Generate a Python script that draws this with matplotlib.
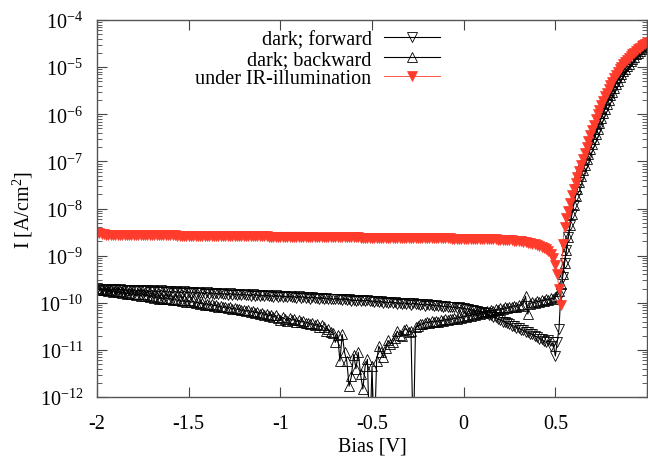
import numpy as np
import matplotlib
matplotlib.use("Agg")
import matplotlib.pyplot as plt
from matplotlib.ticker import LogLocator, NullFormatter

# ---------------- data: bias [V] and log10 of current density [A/cm^2] ----------------
bias = [
    -2.0000, -1.9875, -1.9750, -1.9625, -1.9500, -1.9375, -1.9250, -1.9125, -1.9000, -1.8875,
    -1.8750, -1.8625, -1.8500, -1.8375, -1.8250, -1.8125, -1.8000, -1.7875, -1.7750, -1.7625,
    -1.7500, -1.7375, -1.7250, -1.7125, -1.7000, -1.6875, -1.6750, -1.6625, -1.6500, -1.6375,
    -1.6250, -1.6125, -1.6000, -1.5875, -1.5750, -1.5625, -1.5500, -1.5375, -1.5250, -1.5125,
    -1.5000, -1.4875, -1.4750, -1.4625, -1.4500, -1.4375, -1.4250, -1.4125, -1.4000, -1.3875,
    -1.3750, -1.3625, -1.3500, -1.3375, -1.3250, -1.3125, -1.3000, -1.2875, -1.2750, -1.2625,
    -1.2500, -1.2375, -1.2250, -1.2125, -1.2000, -1.1875, -1.1750, -1.1625, -1.1500, -1.1375,
    -1.1250, -1.1125, -1.1000, -1.0875, -1.0750, -1.0625, -1.0500, -1.0375, -1.0250, -1.0125,
    -1.0000, -0.9875, -0.9750, -0.9625, -0.9500, -0.9375, -0.9250, -0.9125, -0.9000, -0.8875,
    -0.8750, -0.8625, -0.8500, -0.8375, -0.8250, -0.8125, -0.8000, -0.7875, -0.7750, -0.7625,
    -0.7500, -0.7375, -0.7250, -0.7125, -0.7000, -0.6875, -0.6750, -0.6625, -0.6500, -0.6375,
    -0.6250, -0.6125, -0.6000, -0.5875, -0.5750, -0.5625, -0.5500, -0.5375, -0.5250, -0.5125,
    -0.5000, -0.4875, -0.4750, -0.4625, -0.4500, -0.4375, -0.4250, -0.4125, -0.4000, -0.3875,
    -0.3750, -0.3625, -0.3500, -0.3375, -0.3250, -0.3125, -0.3000, -0.2875, -0.2750, -0.2625,
    -0.2500, -0.2375, -0.2250, -0.2125, -0.2000, -0.1875, -0.1750, -0.1625, -0.1500, -0.1375,
    -0.1250, -0.1125, -0.1000, -0.0875, -0.0750, -0.0625, -0.0500, -0.0375, -0.0250, -0.0125,
    0.0000, 0.0125, 0.0250, 0.0375, 0.0500, 0.0625, 0.0750, 0.0875, 0.1000, 0.1125,
    0.1250, 0.1375, 0.1500, 0.1625, 0.1750, 0.1875, 0.2000, 0.2125, 0.2250, 0.2375,
    0.2500, 0.2625, 0.2750, 0.2875, 0.3000, 0.3125, 0.3250, 0.3375, 0.3500, 0.3625,
    0.3750, 0.3875, 0.4000, 0.4125, 0.4250, 0.4375, 0.4500, 0.4625, 0.4750, 0.4875,
    0.5000,
    0.51, 0.52, 0.53, 0.54, 0.55, 0.56, 0.57, 0.58, 0.59, 0.60,
    0.61, 0.62, 0.63, 0.64, 0.65, 0.66, 0.67, 0.68, 0.69, 0.70,
    0.71, 0.72, 0.73, 0.74, 0.75, 0.76, 0.77, 0.78, 0.79, 0.80,
    0.81, 0.82, 0.83, 0.84, 0.85, 0.86, 0.87, 0.88, 0.89, 0.90,
    0.91, 0.92, 0.93, 0.94, 0.95, 0.96, 0.97, 0.98, 0.99, 1.00,
]

log_forward = [
    -9.69, -9.72, -9.70, -9.73, -9.70, -9.72, -9.71, -9.74, -9.71, -9.73,
    -9.71, -9.74, -9.72, -9.75, -9.72, -9.74, -9.73, -9.76, -9.72, -9.75,
    -9.73, -9.76, -9.74, -9.77, -9.74, -9.76, -9.75, -9.77, -9.74, -9.77,
    -9.75, -9.78, -9.76, -9.79, -9.76, -9.78, -9.77, -9.79, -9.76, -9.79,
    -9.77, -9.80, -9.78, -9.80, -9.78, -9.80, -9.79, -9.81, -9.78, -9.81,
    -9.79, -9.82, -9.80, -9.82, -9.80, -9.82, -9.81, -9.83, -9.80, -9.83,
    -9.81, -9.84, -9.82, -9.84, -9.82, -9.84, -9.83, -9.85, -9.82, -9.85,
    -9.83, -9.86, -9.84, -9.86, -9.84, -9.86, -9.85, -9.87, -9.84, -9.87,
    -9.85, -9.88, -9.86, -9.88, -9.86, -9.88, -9.87, -9.89, -9.86, -9.89,
    -9.87, -9.90, -9.88, -9.91, -9.88, -9.90, -9.89, -9.92, -9.89, -9.91,
    -9.90, -9.93, -9.91, -9.93, -9.91, -9.93, -9.92, -9.94, -9.91, -9.94,
    -9.93, -9.96, -9.94, -9.96, -9.94, -9.96, -9.95, -9.97, -9.94, -9.97,
    -9.96, -9.99, -9.97, -9.99, -9.97, -10.00, -9.98, -10.01, -9.98, -10.00,
    -9.99, -10.02, -10.00, -10.03, -10.00, -10.02, -10.01, -10.04, -10.01, -10.03,
    -10.02, -10.05, -10.03, -10.06, -10.03, -10.05, -10.04, -10.07, -10.05, -10.07,
    -10.06, -10.09, -10.07, -10.10, -10.08, -10.10, -10.09, -10.12, -10.10, -10.12,
    -10.11, -10.14, -10.13, -10.16, -10.15, -10.17, -10.17, -10.20, -10.19, -10.22,
    -10.22, -10.26, -10.27, -10.31, -10.31, -10.35, -10.36, -10.40, -10.40, -10.44,
    -10.45, -10.49, -10.49, -10.53, -10.54, -10.57, -10.58, -10.62, -10.62, -10.66,
    -10.67, -10.71, -10.72, -10.76, -10.77, -10.82, -10.84, -10.80, -10.92, -10.84,
    -11.13,
    -10.84, -10.55, -9.80, -9.45, -9.15, -8.88, -8.60, -8.35, -8.12, -7.92,
    -7.74, -7.58, -7.43, -7.30, -7.18, -7.07, -6.96, -6.85, -6.74, -6.64,
    -6.53, -6.42, -6.31, -6.19, -6.08, -5.98, -5.88, -5.78, -5.69, -5.60,
    -5.52, -5.44, -5.36, -5.29, -5.22, -5.15, -5.09, -5.03, -4.98, -4.93,
    -4.88, -4.83, -4.78, -4.73, -4.69, -4.65, -4.61, -4.58, -4.55, -4.52,
]

log_backward = [
    -9.69, -9.72, -9.71, -9.74, -9.72, -9.75, -9.74, -9.77, -9.75, -9.78,
    -9.76, -9.79, -9.78, -9.81, -9.79, -9.82, -9.81, -9.84, -9.82, -9.85,
    -9.82, -9.86, -9.84, -9.87, -9.86, -9.89, -9.87, -9.91, -9.89, -9.92,
    -9.89, -9.92, -9.91, -9.94, -9.92, -9.95, -9.94, -9.97, -9.95, -9.98,
    -9.95, -9.99, -9.97, -10.00, -9.99, -10.02, -10.00, -10.04, -10.02, -10.05,
    -10.03, -10.06, -10.05, -10.08, -10.07, -10.10, -10.08, -10.12, -10.10, -10.13,
    -10.11, -10.14, -10.13, -10.16, -10.15, -10.18, -10.16, -10.20, -10.18, -10.21,
    -10.19, -10.23, -10.21, -10.25, -10.23, -10.28, -10.25, -10.30, -10.27, -10.33,
    -10.36, -10.31, -10.34, -10.38, -10.33, -10.37, -10.35, -10.40, -10.37, -10.41,
    -10.39, -10.43, -10.42, -10.46, -10.44, -10.48, -10.46, -10.51, -10.48, -10.52,
    -10.60, -10.56, -10.62, -10.64, -10.84, -10.68, -11.24, -10.67, -11.05, -11.24,
    -11.77, -11.56, -11.10, -11.40, -11.05, -11.52, -11.83, -11.35, -11.20, -13.00,
    -11.35, -13.00, -11.24, -10.92, -11.05, -11.16, -10.95, -10.80, -10.88, -10.84,
    -10.75, -10.60, -10.68, -10.70, -10.58, -10.55, -10.62, -10.60, -13.00, -10.52,
    -10.50, -10.46, -10.45, -10.43, -10.41, -10.42, -10.39, -10.41, -10.38, -10.40,
    -10.37, -10.39, -10.35, -10.37, -10.34, -10.35, -10.32, -10.34, -10.30, -10.32,
    -10.28, -10.30, -10.26, -10.28, -10.24, -10.26, -10.22, -10.24, -10.20, -10.22,
    -10.18, -10.20, -10.16, -10.18, -10.14, -10.16, -10.12, -10.14, -10.10, -10.12,
    -10.08, -10.10, -10.06, -10.08, -10.04, -10.06, -10.02, -9.86, -10.24, -10.03,
    -9.98, -10.00, -9.96, -9.98, -9.94, -9.96, -9.92, -9.94, -9.90, -9.92,
    -9.88,
    -9.85, -9.75, -9.60, -9.40, -9.15, -8.88, -8.60, -8.35, -8.12, -7.92,
    -7.74, -7.58, -7.43, -7.30, -7.18, -7.07, -6.96, -6.85, -6.74, -6.64,
    -6.53, -6.42, -6.31, -6.19, -6.08, -5.98, -5.88, -5.78, -5.69, -5.60,
    -5.52, -5.44, -5.36, -5.29, -5.22, -5.15, -5.09, -5.03, -4.98, -4.93,
    -4.88, -4.83, -4.78, -4.73, -4.69, -4.65, -4.61, -4.58, -4.55, -4.52,
]

log_ir = [
    -8.52, -8.53, -8.54, -8.55, -8.56, -8.56, -8.56, -8.56, -8.56, -8.56,
    -8.56, -8.56, -8.56, -8.56, -8.56, -8.57, -8.57, -8.57, -8.57, -8.57,
    -8.57, -8.57, -8.57, -8.57, -8.57, -8.57, -8.57, -8.57, -8.57, -8.57,
    -8.57, -8.57, -8.57, -8.57, -8.57, -8.58, -8.58, -8.58, -8.58, -8.58,
    -8.58, -8.58, -8.58, -8.58, -8.58, -8.58, -8.58, -8.58, -8.58, -8.58,
    -8.58, -8.58, -8.58, -8.58, -8.58, -8.59, -8.59, -8.59, -8.59, -8.59,
    -8.59, -8.59, -8.59, -8.59, -8.59, -8.59, -8.59, -8.59, -8.59, -8.59,
    -8.59, -8.59, -8.59, -8.59, -8.59, -8.60, -8.60, -8.60, -8.60, -8.60,
    -8.60, -8.60, -8.60, -8.60, -8.60, -8.60, -8.60, -8.60, -8.60, -8.60,
    -8.60, -8.60, -8.60, -8.60, -8.60, -8.61, -8.61, -8.61, -8.61, -8.61,
    -8.61, -8.61, -8.61, -8.61, -8.61, -8.61, -8.61, -8.61, -8.61, -8.61,
    -8.61, -8.61, -8.61, -8.61, -8.61, -8.62, -8.62, -8.62, -8.62, -8.62,
    -8.62, -8.62, -8.62, -8.62, -8.62, -8.62, -8.62, -8.62, -8.62, -8.62,
    -8.62, -8.62, -8.62, -8.62, -8.62, -8.63, -8.63, -8.63, -8.63, -8.63,
    -8.63, -8.63, -8.63, -8.63, -8.63, -8.63, -8.63, -8.63, -8.63, -8.63,
    -8.63, -8.63, -8.63, -8.63, -8.63, -8.64, -8.64, -8.64, -8.64, -8.64,
    -8.64, -8.64, -8.64, -8.64, -8.64, -8.65, -8.65, -8.65, -8.65, -8.65,
    -8.65, -8.65, -8.65, -8.65, -8.65, -8.66, -8.66, -8.66, -8.66, -8.66,
    -8.67, -8.67, -8.68, -8.68, -8.69, -8.70, -8.71, -8.72, -8.73, -8.74,
    -8.75, -8.76, -8.78, -8.80, -8.82, -8.84, -8.87, -8.91, -8.96, -9.05,
    -9.20,
    -9.40, -9.70, -10.05, -8.75, -8.40, -8.20, -8.05, -7.88, -7.72, -7.58,
    -7.46, -7.33, -7.20, -7.07, -6.95, -6.82, -6.70, -6.57, -6.45, -6.33,
    -6.22, -6.11, -6.00, -5.90, -5.80, -5.71, -5.62, -5.54, -5.46, -5.38,
    -5.31, -5.24, -5.17, -5.11, -5.05, -4.99, -4.94, -4.89, -4.85, -4.81,
    -4.77, -4.73, -4.69, -4.65, -4.62, -4.59, -4.56, -4.53, -4.50, -4.47,
]

labels = ["dark; forward", "dark; backward", "under IR-illumination"]
xtick_vals = [-2, -1.5, -1, -0.5, 0, 0.5, 1]
xtick_text = ["-2", "-1.5", "-1", "-0.5", "0", "0.5", ""]
ytick_exp = [-12, -11, -10, -9, -8, -7, -6, -5, -4]

# ---------------- style ----------------
plt.rcParams["font.family"] = ["Liberation Serif", "DejaVu Serif"]
plt.rcParams["mathtext.fontset"] = "custom"
plt.rcParams["mathtext.rm"] = "Liberation Serif"
plt.rcParams["mathtext.it"] = "Liberation Serif:italic"
plt.rcParams["axes.unicode_minus"] = False

W, H = 648, 464
fig = plt.figure(figsize=(W / 100, H / 100), dpi=100)
ax = fig.add_axes([97 / W, 1 - 398 / H, (647 - 97) / W, (398 - 21) / H])

red = "#ff3b2b"
ms = 6.8
fs = 14.5

x = np.array(bias)
ax.plot(x, 10.0 ** np.array(log_forward), color="black", lw=0.8,
        marker="v", ms=ms, mfc="none", mec="black", mew=0.6, label=labels[0])
ax.plot(x, 10.0 ** np.array(log_backward), color="black", lw=0.8,
        marker="^", ms=ms, mfc="none", mec="black", mew=0.6, label=labels[1])
ax.plot(x, 10.0 ** np.array(log_ir), color=red, lw=0.6,
        marker="v", ms=ms, mfc=red, mec=red, mew=0.5, label=labels[2])

ax.set_yscale("log")
ax.set_xlim(-2, 1)
ax.set_ylim(1e-12, 1e-4)
ax.set_xticks(xtick_vals)
ax.set_xticklabels(xtick_text)
ax.set_yticks([10.0 ** e for e in ytick_exp])
ax.set_yticklabels([r"$10^{%d}$" % e for e in ytick_exp])
ax.yaxis.set_minor_locator(LogLocator(base=10, subs=np.arange(2, 10), numticks=20))
ax.yaxis.set_minor_formatter(NullFormatter())

ax.tick_params(which="both", direction="in", top=True, right=True,
               colors="black", labelsize=fs)
ax.tick_params(axis="x", which="major", pad=12)
ax.tick_params(axis="y", which="major", pad=10)
ax.tick_params(which="major", length=7, width=0.8, color="#444444")
ax.tick_params(which="minor", length=3.5, width=0.6, color="#444444")
for s in ax.spines.values():
    s.set_color("#555555")
    s.set_linewidth(1.0)

ax.set_xlabel("Bias [V]", fontsize=fs, labelpad=3)
ax.set_ylabel(r"I [A/cm$^2$]", fontsize=fs, labelpad=3)

leg = ax.legend(loc="upper right", bbox_to_anchor=((440 - 97) / 550, (398 - 31) / 377),
                frameon=False, markerfirst=False, fontsize=fs, handlelength=2.8,
                handletextpad=0.6, labelspacing=0.03, borderpad=0, borderaxespad=0,
                numpoints=1)

fig.savefig("out.png", dpi=100)
